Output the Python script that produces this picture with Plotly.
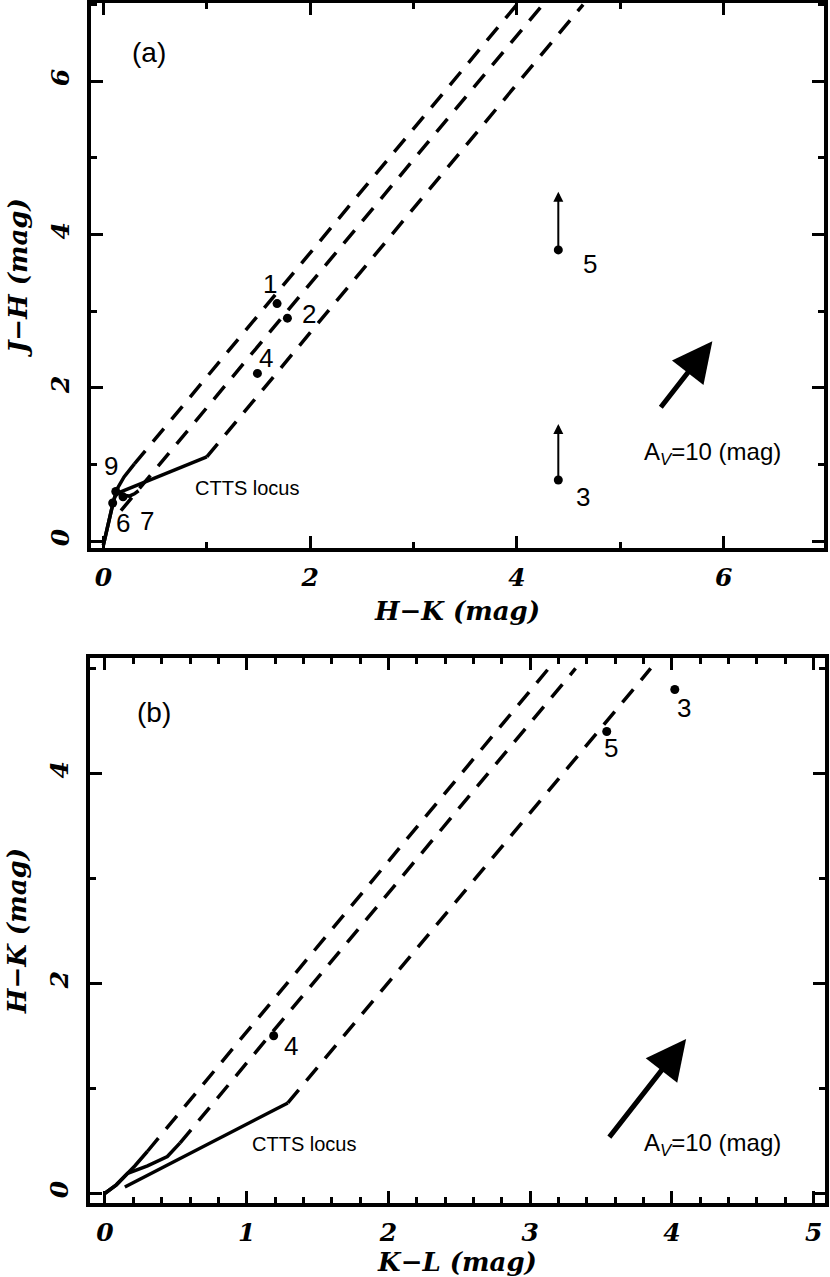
import plotly.graph_objects as go

# ---- panel (a): J-H vs H-K ----
a_hk = [1.68, 1.78, 4.40, 1.49, 4.40, 0.09, 0.19, 0.12]
a_jh = [3.10, 2.91, 0.80, 2.19, 3.80, 0.50, 0.58, 0.65]
a_ids = ["1", "2", "3", "4", "5", "6", "7", "9"]
# lower limits in J-H (arrow tips) for sources 3 and 5
a_lim_hk = [4.40, 4.40]
a_lim_lo = [0.80, 3.80]
a_lim_hi = [1.53, 4.56]

a_ctts_hk = [0.12, 1.00]
a_ctts_jh = [0.62, 1.10]
a_dwarf_hk = [0.00, 0.04, 0.08, 0.11, 0.14, 0.19, 0.25, 0.30, 0.34]
a_dwarf_jh = [-0.05, 0.20, 0.42, 0.58, 0.63, 0.60, 0.59, 0.62, 0.66]
a_giant_hk = [0.00, 0.04, 0.08, 0.11, 0.14, 0.20, 0.26, 0.30]
a_giant_jh = [-0.05, 0.20, 0.42, 0.58, 0.70, 0.84, 0.95, 1.01]
a_red_hk = [[0.30, 4.00], [0.17, 4.25], [1.00, 4.64]]
a_red_jh = [[1.01, 7.00], [0.40, 7.00], [1.10, 7.00]]
a_av_hk = [5.38, 5.89]
a_av_jh = [1.73, 2.61]

# ---- panel (b): H-K vs K-L ----
b_kl = [4.02, 3.54, 1.19]
b_hk = [4.80, 4.40, 1.50]
b_ids = ["3", "5", "4"]

b_ctts_kl = [0.14, 1.29]
b_ctts_hk = [0.06, 0.86]
b_dwarf_kl = [0.00, 0.08, 0.16, 0.30, 0.44, 0.53]
b_dwarf_hk = [0.00, 0.08, 0.19, 0.26, 0.35, 0.48]
b_giant_kl = [0.00, 0.08, 0.16, 0.21, 0.30]
b_giant_hk = [0.00, 0.08, 0.19, 0.26, 0.40]
b_red_kl = [[0.30, 3.13], [0.53, 3.32], [1.29, 3.85]]
b_red_hk = [[0.40, 5.00], [0.48, 5.00], [0.86, 5.00]]
b_av_kl = [3.55, 4.10]
b_av_hk = [0.52, 1.47]

# label offsets in pixels (xshift, yshift)
a_off = {"1": (-7, 20), "2": (22, 4), "3": (25, -17), "4": (9, 15),
         "5": (32, -14), "6": (10, -20), "7": (24, -24), "9": (-5, 25)}
b_off = {"3": (9, -19), "5": (4, -17), "4": (17, -10)}

SANS = "Liberation Sans, Arial, sans-serif"
SERIF = "DejaVu Serif, serif"
BLK = "black"

fig = go.Figure()


def add_panel(xa, ya, ctts, dwarf, giant, red, pts, ids, off):
    xr, yr = "x" if xa == 1 else "x2", "y" if ya == 1 else "y2"
    solid = dict(color=BLK, width=3.5)
    for xs, ys in (ctts, dwarf, giant):
        fig.add_trace(go.Scatter(x=xs, y=ys, mode="lines", line=solid,
                                 xaxis=xr, yaxis=yr, hoverinfo="skip"))
    for xs, ys in zip(*red):
        fig.add_trace(go.Scatter(x=xs, y=ys, mode="lines",
                                 line=dict(color=BLK, width=3.5, dash="17px,12px"),
                                 xaxis=xr, yaxis=yr, hoverinfo="skip"))
    fig.add_trace(go.Scatter(x=pts[0], y=pts[1], mode="markers",
                             marker=dict(color=BLK, size=9),
                             xaxis=xr, yaxis=yr, hoverinfo="skip"))
    for x, y, t in zip(pts[0], pts[1], ids):
        dx, dy = off[t]
        fig.add_annotation(x=x, y=y, xref=xr, yref=yr, text=t, showarrow=False,
                           xshift=dx, yshift=dy,
                           font=dict(family=SANS, size=26, color=BLK))


add_panel(1, 1, (a_ctts_hk, a_ctts_jh), (a_dwarf_hk, a_dwarf_jh),
          (a_giant_hk, a_giant_jh), (a_red_hk, a_red_jh),
          (a_hk, a_jh), a_ids, a_off)
add_panel(2, 2, (b_ctts_kl, b_ctts_hk), (b_dwarf_kl, b_dwarf_hk),
          (b_giant_kl, b_giant_hk), (b_red_kl, b_red_hk),
          (b_kl, b_hk), b_ids, b_off)

# lower-limit arrows
for x, lo, hi in zip(a_lim_hk, a_lim_lo, a_lim_hi):
    fig.add_annotation(x=x, y=hi, ax=x, ay=lo, xref="x", yref="y",
                       axref="x", ayref="y", text="", showarrow=True,
                       arrowhead=2, arrowsize=1.0, arrowwidth=2, arrowcolor=BLK)

# reddening vectors
for (xs, ys), xr, yr in (((a_av_hk, a_av_jh), "x", "y"),
                         ((b_av_kl, b_av_hk), "x2", "y2")):
    fig.add_annotation(x=xs[1], y=ys[1], ax=xs[0], ay=ys[0], xref=xr, yref=yr,
                       axref=xr, ayref=yr, text="", showarrow=True,
                       arrowhead=2, arrowsize=1.6, arrowwidth=5, arrowcolor=BLK)

texts = [
    ("x", "y", 0.26, 6.38, "(a)", 28),
    ("x2", "y2", 0.21, 4.58, "(b)", 28),
    ("x", "y", 0.87, 0.69, "CTTS locus", 20),
    ("x2", "y2", 1.02, 0.47, "CTTS locus", 20),
    ("x", "y", 5.21, 1.14, "A<sub><i>V</i></sub>=10 (mag)", 24),
    ("x2", "y2", 3.79, 0.46, "A<sub><i>V</i></sub>=10 (mag)", 24),
]
for xr, yr, x, y, t, s in texts:
    fig.add_annotation(x=x, y=y, xref=xr, yref=yr, text=t, showarrow=False,
                       xanchor="left", font=dict(family=SANS, size=s, color=BLK))

tickfont = dict(family=SERIF, size=25, color=BLK, weight="bold", style="italic")
titlefont = dict(family=SERIF, size=26, color=BLK, weight="bold", style="italic")


def ax(rng, dtick, minor, domain, title, **kw):
    return dict(range=rng, domain=domain, dtick=dtick, tick0=0,
                showline=True, linewidth=3.5, linecolor=BLK, mirror="ticks",
                ticks="inside", ticklen=12, tickwidth=3, tickcolor=BLK,
                minor=dict(dtick=minor, tick0=0, ticks="inside", ticklen=6,
                           tickwidth=3, tickcolor=BLK),
                showgrid=False, zeroline=False, tickfont=tickfont,
                title=dict(text=title, font=titlefont, standoff=12), **kw)


fig.update_layout(
    width=830, height=1277, showlegend=False,
    paper_bgcolor="white", plot_bgcolor="white",
    margin=dict(l=0, r=0, t=0, b=0),
    xaxis=ax([-0.12, 6.97], 2, 1, [0.1096, 0.9928], "H\u2212K (mag)",
             anchor="y", ticklabelstandoff=4),
    yaxis=ax([-0.09, 7.02], 2, 1, [0.5709, 0.9992], "J\u2212H (mag)",
             anchor="x", tickangle=-90, ticklabelstandoff=8),
    xaxis2=ax([-0.106, 5.08], 1, 0.2, [0.1084, 0.994], "K\u2212L (mag)",
              anchor="y2", ticklabelstandoff=4),
    yaxis2=ax([-0.095, 5.10], 2, 1, [0.0564, 0.4847], "H\u2212K (mag)",
              anchor="x2", tickangle=-90, ticklabelstandoff=8),
)

fig.write_html("out.html", config={"displayModeBar": False},
               post_script="document.body.style.margin='0';")
